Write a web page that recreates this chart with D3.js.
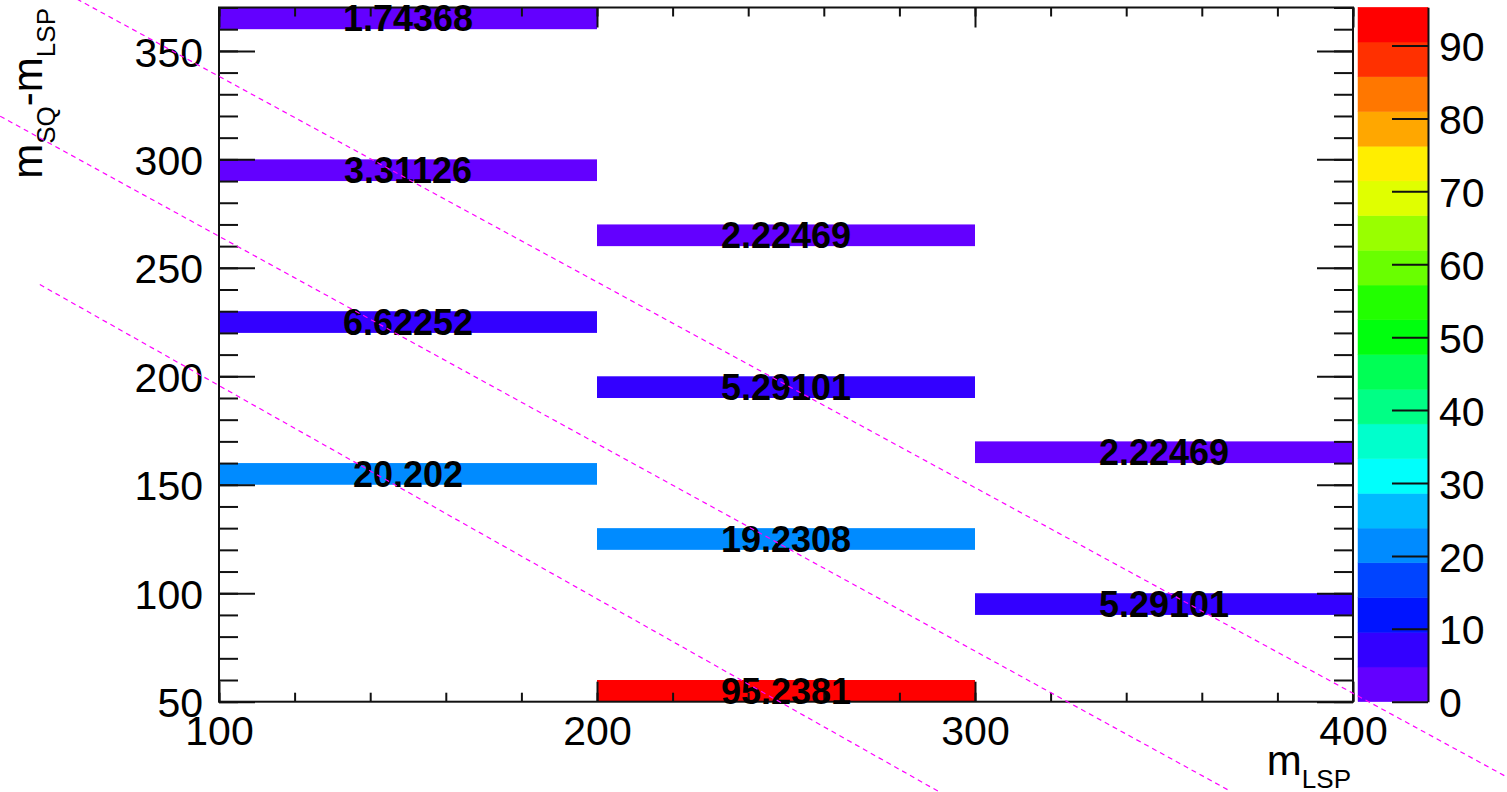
<!DOCTYPE html>
<html>
<head>
<meta charset="utf-8">
<script src="https://cdn.jsdelivr.net/npm/d3@7"></script>
<style>
  html, body { margin: 0; padding: 0; background: #fff; }
  svg { display: block; font-family: "Liberation Sans", Arial, Helvetica, sans-serif; }
</style>
</head>
<body>
<svg id="chart" width="1507" height="792"></svg>
<script>
// Cell contents of the 2D histogram (lower bin edges and bin content)
const cellMLSP  = [100, 100, 200, 100, 200, 300, 100, 200, 300, 200];
const cellDelta = [360, 290, 260, 220, 190, 160, 150, 120, 90, 50];
const cellValue = [1.74368, 3.31126, 2.22469, 6.62252, 5.29101, 2.22469, 20.202, 19.2308, 5.29101, 95.2381];
const binWidthX = 100;
const binWidthY = 10;

// Axis ticks
const xTicks = [100, 200, 300, 400];
const xMinorTicks = d3.range(100, 401, 20);
const yTicks = [50, 100, 150, 200, 250, 300, 350];
const yMinorTicks = d3.range(50, 371, 10);
const zTicks = [0, 10, 20, 30, 40, 50, 60, 70, 80, 90];

// Reference lines (endpoints in axis units)
const lineStartX = [62.4, 42.1, 52.6];
const lineStartY = [373.9, 319.9, 242.3];
const lineEndX   = [440.7, 367.5, 290.7];
const lineEndY   = [15.3, 8.8, 8.3];

const nLevels = 20;
const zMax = d3.max(cellValue);

const svg = d3.select("#chart");

const x = d3.scaleLinear().domain([100, 400]).range([219, 1353]);
const y = d3.scaleLinear().domain([50, 370]).range([701.7, 7.5]);
const z = d3.scaleLinear().domain([0, zMax]).range([701.7, 7.3]);

// Violet -> red spectrum, 50 entries, sampled into 20 contour levels
function levelColor(j) {
  const idx = Math.floor((j + 0.99) * 50 / nLevels);
  if (idx >= 49) return "rgb(255,0,0)";
  const hue = 280 - (idx + 1) * 5.6;
  return d3.hsl(hue, 1, 0.5).formatRgb();
}
function valueColor(v) {
  const j = Math.min(nLevels - 1, Math.floor(v / (zMax / nLevels)));
  return levelColor(j);
}

const cells = cellValue.map((v, i) => ({ mx: cellMLSP[i], dy: cellDelta[i], v }));

// Cells
svg.append("g").selectAll("rect").data(cells).join("rect")
  .attr("x", d => x(d.mx))
  .attr("y", d => y(d.dy + binWidthY))
  .attr("width", d => x(d.mx + binWidthX) - x(d.mx))
  .attr("height", d => y(d.dy) - y(d.dy + binWidthY))
  .attr("fill", d => valueColor(d.v));

// Color scale bands
const bw = zMax / nLevels;
svg.append("g").selectAll("rect").data(d3.range(nLevels)).join("rect")
  .attr("x", 1358)
  .attr("width", 70)
  .attr("y", j => z((j + 1) * bw))
  .attr("height", j => z(j * bw) - z((j + 1) * bw))
  .attr("fill", j => levelColor(j))
  .attr("stroke", j => levelColor(j))
  .attr("stroke-width", 0.5);

const axisColor = "#111";
const tickFont = 41;

function styleAxis(g) {
  g.selectAll("line").attr("stroke", axisColor).attr("stroke-width", 2);
  g.selectAll("path.domain").remove();
  g.selectAll("text").attr("fill", "#000").attr("font-size", tickFont);
}

// Bottom axis
svg.append("g").attr("transform", "translate(0,701.7)")
  .call(d3.axisBottom(x).tickValues(xMinorTicks).tickSizeInner(-9).tickSizeOuter(0).tickFormat(""))
  .call(styleAxis);
svg.append("g").attr("transform", "translate(0,701.7)")
  .call(d3.axisBottom(x).tickValues(xTicks).tickSizeInner(-20).tickSizeOuter(0).tickPadding(14).tickFormat(d3.format("d")))
  .call(styleAxis);
// Top axis
svg.append("g").attr("transform", "translate(0,7.5)")
  .call(d3.axisTop(x).tickValues(xMinorTicks).tickSizeInner(-9).tickSizeOuter(0).tickFormat(""))
  .call(styleAxis);
svg.append("g").attr("transform", "translate(0,7.5)")
  .call(d3.axisTop(x).tickValues(xTicks).tickSizeInner(-20).tickSizeOuter(0).tickFormat(""))
  .call(styleAxis);
// Left axis
svg.append("g").attr("transform", "translate(219,0)")
  .call(d3.axisLeft(y).tickValues(yMinorTicks).tickSizeInner(-19).tickSizeOuter(0).tickFormat(""))
  .call(styleAxis);
svg.append("g").attr("transform", "translate(219,0)")
  .call(d3.axisLeft(y).tickValues(yTicks).tickSizeInner(-36).tickSizeOuter(0).tickPadding(16).tickFormat(d3.format("d")))
  .call(styleAxis)
  .call(g => g.selectAll("text").attr("dy", "0.37em"));
// Right axis
svg.append("g").attr("transform", "translate(1353,0)")
  .call(d3.axisRight(y).tickValues(yMinorTicks).tickSizeInner(-19).tickSizeOuter(0).tickFormat(""))
  .call(styleAxis);
svg.append("g").attr("transform", "translate(1353,0)")
  .call(d3.axisRight(y).tickValues(yTicks).tickSizeInner(-36).tickSizeOuter(0).tickFormat(""))
  .call(styleAxis);

// Frame
svg.append("rect")
  .attr("x", x(100)).attr("y", y(370))
  .attr("width", x(400) - x(100)).attr("height", y(50) - y(370))
  .attr("fill", "none").attr("stroke", axisColor).attr("stroke-width", 2);

// Color axis
const zAxisG = svg.append("g").attr("transform", "translate(1428,0)")
  .call(d3.axisRight(z).tickValues(zTicks).tickSizeInner(-36).tickSizeOuter(0).tickPadding(11).tickFormat(d3.format("d")));
zAxisG.selectAll("line").attr("stroke", axisColor).attr("stroke-width", 2);
zAxisG.select("path.domain").attr("stroke", axisColor).attr("stroke-width", 2);
zAxisG.selectAll("text").attr("fill", "#000").attr("font-size", tickFont).attr("dy", "0.37em");

// Cell value labels
const fmt = d3.format(".6~g");
svg.append("g").selectAll("text").data(cells).join("text")
  .attr("x", d => x(d.mx + binWidthX / 2))
  .attr("y", d => y(d.dy + binWidthY / 2) + 13)
  .attr("text-anchor", "middle")
  .attr("font-size", 36)
  .attr("font-weight", "bold")
  .attr("fill", "#000")
  .text(d => fmt(d.v));

// Axis titles
const xTitle = svg.append("text")
  .attr("x", 1351).attr("y", 775)
  .attr("text-anchor", "end").attr("font-size", 42).attr("fill", "#000");
xTitle.append("tspan").text("m");
xTitle.append("tspan").attr("font-size", 26).attr("dy", 13).text("LSP");

const yTitle = svg.append("text")
  .attr("transform", "translate(42,8) rotate(-90)")
  .attr("text-anchor", "end").attr("font-size", 42).attr("fill", "#000");
yTitle.append("tspan").text("m");
yTitle.append("tspan").attr("font-size", 26).attr("dy", 13).text("SQ");
yTitle.append("tspan").attr("dy", -13).text("-m");
yTitle.append("tspan").attr("font-size", 26).attr("dy", 13).text("LSP");

// Dashed reference lines
svg.append("g").selectAll("line").data(d3.range(lineStartX.length)).join("line")
  .attr("x1", i => x(lineStartX[i]))
  .attr("y1", i => y(lineStartY[i]))
  .attr("x2", i => x(lineEndX[i]))
  .attr("y2", i => y(lineEndY[i]))
  .attr("stroke", "#ff00ff")
  .attr("stroke-width", 1.2)
  .attr("stroke-dasharray", "5,4");
</script>
</body>
</html>
